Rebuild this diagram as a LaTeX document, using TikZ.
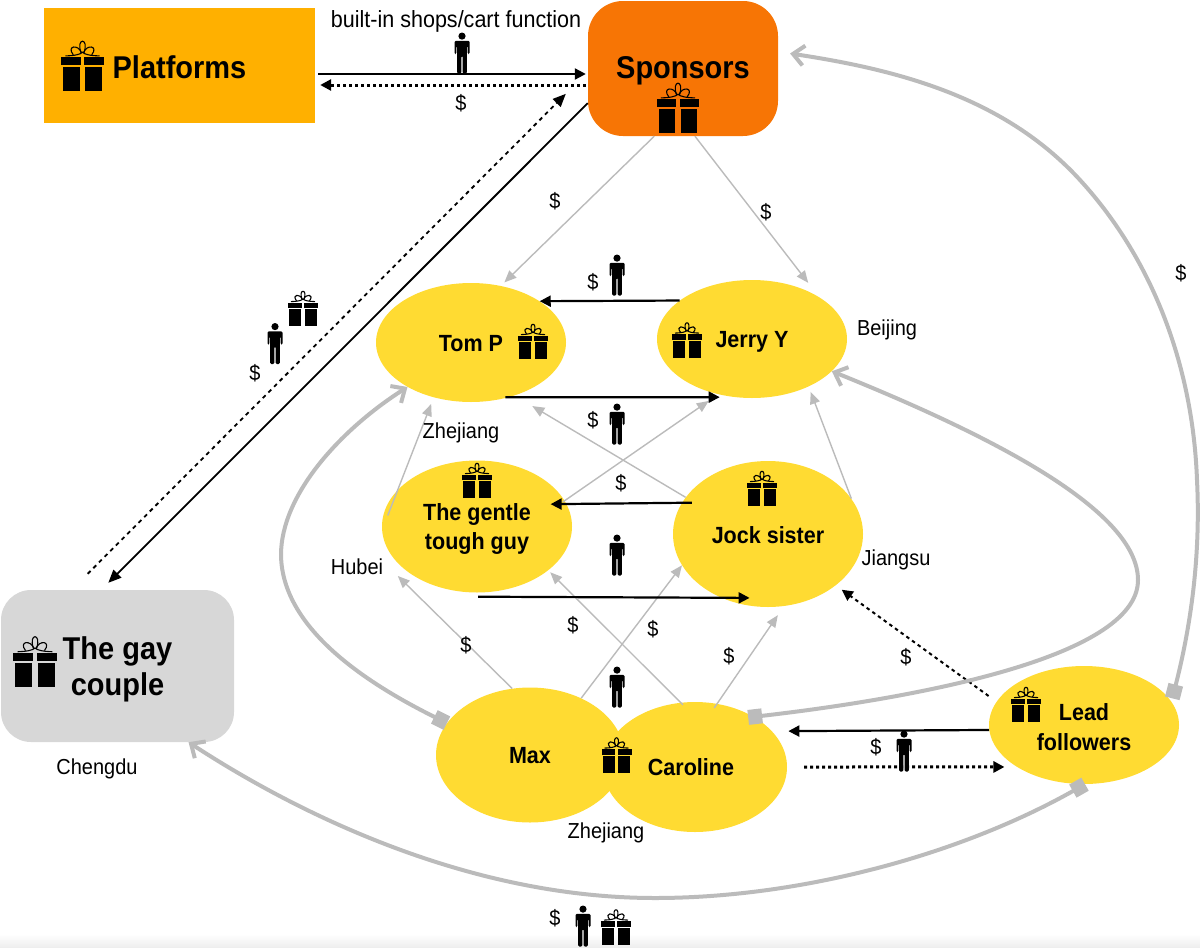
\documentclass[tikz,border=0pt]{standalone}
\usepackage{fontspec}
\setmainfont[FakeStretch=0.92]{Liberation Sans}
\usetikzlibrary{arrows.meta,shapes.geometric}
\definecolor{yel}{HTML}{FFDB32}
\definecolor{ora}{HTML}{F77505}
\definecolor{plt}{HTML}{FFB000}
\definecolor{gbox}{HTML}{D7D7D7}
\definecolor{gline}{HTML}{BBBBBB}
\newcommand{\lowr}[2]{\raisebox{-#1pt}[\height][\depth]{#2}}
\tikzset{
  x=1pt,y=-1pt,
  bigtxt/.style={font=\fontsize{31.5}{36}\selectfont\bfseries,align=center,text=black},
  midtxt/.style={font=\fontsize{23.4}{29}\selectfont\bfseries,align=center,text=black},
  blob/.style={ellipse,fill=yel,inner sep=0pt,midtxt},
  lab/.style={inner sep=0pt,font=\fontsize{21.7}{24}\selectfont,text=black},
  money/.style={inner sep=0pt,font=\fontsize{21.7}{24}\selectfont,text=black},
  thinarrow/.style={draw=gline,line width=1.4pt,-{Triangle[length=12pt,width=10pt]}},
  blackarrow/.style={draw=black,line width=2.2pt,-{Triangle[length=11pt,width=11pt]}},
  dotarrow/.style={draw=black,line width=3pt,dash pattern=on 3pt off 3pt,-{Triangle[length=11pt,width=11pt]}},
  dasharrow/.style={draw=black,line width=2pt,dash pattern=on 3.5pt off 3.5pt,-{Triangle[length=11pt,width=11pt]}},
  longdash/.style={draw=black,line width=1.8pt,dash pattern=on 4pt off 4pt,-{Triangle[length=13pt,width=11pt]}},
  longsolid/.style={draw=black,line width=1.8pt,-{Triangle[length=13pt,width=11pt]}},
  bigcurve/.style={draw=gline,line width=4pt,{Square[length=14pt,width=15pt]}-{Straight Barb[length=11pt,width=20pt,line width=4pt]}},
  gift/.pic={
    \fill (-15,-5.3) rectangle (-1.2,0.3);
    \fill (1.2,-5.3) rectangle (15,0.3);
    \fill (-13.6,1.2) rectangle (-1.8,18);
    \fill (1.8,1.2) rectangle (13.6,18);
    \draw[line width=1.1pt] (-12,-6.4) .. controls (-5,-6.6) and (-1.5,-7.5) .. (0,-9) .. controls (1.5,-7.5) and (5,-6.6) .. (12,-6.4);
    \draw[line width=1.1pt] (-0.6,-8.5) .. controls (-3,-15) and (-11.5,-13.5) .. (-6.5,-7.2);
    \draw[line width=1.1pt] (0.6,-8.5) .. controls (3,-15) and (11.5,-13.5) .. (6.5,-7.2);
    \draw[line width=1.1pt] (-1,-8.5) .. controls (-5,-19.5) and (5,-19.5) .. (1,-8.5);
  },
  person/.pic={
    \fill (0,-16.9) circle (3.6);
    \fill[rounded corners=1.2pt] (-7.5,1)--(-7.5,-12.2)--(7.5,-12.2)--(7.5,1)--(5.7,1)--(5.7,-7)--(4.9,-7)--(4.9,20.5)--(0.7,20.5)--(0.7,3)--(-0.7,3)--(-0.7,20.5)--(-4.9,20.5)--(-4.9,-7)--(-5.7,-7)--(-5.7,1)--cycle;
  }
}
\begin{document}
\begin{tikzpicture}
\useasboundingbox (0,0) rectangle (1200,948);
\fill[top color=white,bottom color=black!7] (0,934) rectangle (1200,948);

% boxes and blobs
\node[bigtxt,fill=plt,inner sep=0pt,minimum width=271pt,minimum height=115pt] (plat) at (179.5,65.5) {\lowr{2}{Platforms}};
\node[bigtxt,fill=ora,rounded corners=35pt,inner sep=0pt,minimum width=190pt,minimum height=135pt] (spon) at (683,68.5) {\lowr{2}{Sponsors}};
\node[bigtxt,fill=gbox,rounded corners=30pt,inner sep=0pt,minimum width=233pt,minimum height=152pt] (gay) at (117.5,666) {\lowr{3}{The gay}\\\lowr{3}{couple}};

\node[blob,minimum width=190pt,minimum height=119pt] (tom) at (471,342.5) {\lowr{1}{Tom P}};
\node[blob,minimum width=190pt,minimum height=118pt] (jerry) at (752,339) {\lowr{3}{Jerry Y}};
\node[blob,minimum width=190pt,minimum height=132pt] (gentle) at (477,526.5) {\lowr{2.5}{The gentle}\\\lowr{2.5}{tough guy}};
\node[blob,minimum width=190pt,minimum height=146pt] (jock) at (768,534) {\lowr{1}{Jock sister}};
\node[blob,minimum width=188pt,minimum height=135pt] (max) at (530,755) {\lowr{1}{Max}};
\node[blob,minimum width=184pt,minimum height=130pt] (caro) at (695,767) {\hspace*{-8pt}Caroline};
\node[blob,minimum width=190pt,minimum height=118pt] (lead) at (1084,725) {\lowr{2}{Lead}\\[1pt]\lowr{2}{followers}};

% thin grey connectors
\draw[thinarrow] (spon.247.3) -- ([shift={(2.1,-3.7)}]tom.61);
\draw[thinarrow] (spon.-80.7) -- ([shift={(5.9,-5.9)}]jerry.45);
\draw[thinarrow] ([shift={(4.5,0.5)}]gentle.173.3) -- ([shift={(-3.9,6.2)}]tom.237.4);
\draw[thinarrow] (jock.156.9) -- ([shift={(12,12.5)}]tom.-46.6);
\draw[thinarrow] ([shift={(-2.2,0.7)}]gentle.16.1) -- ([shift={(-5.2,7.6)}]jerry.235.9);
\draw[thinarrow] (jock.23.8) -- ([shift={(4.6,4.2)}]jerry.-42.4);
\draw[thinarrow] (max.105.8) -- ([shift={(-8.4,5.2)}]gentle.212.1);
\draw[thinarrow] (max.48.2) -- (jock.200);
\draw[thinarrow] ([shift={(0.5,2.5)}]caro.101.8) -- ([shift={(2.4,1.5)}]gentle.-32.9);
\draw[thinarrow] ([shift={(-1.4,4.4)}]caro.72.2) -- ([shift={(0.9,8.3)}]jock.-83.7);

% black connectors
\draw[blackarrow] ([shift={(3,8.5)}]plat.east) -- ([shift={(-2,5.5)}]spon.west);
\draw[dotarrow] ([shift={(-2,16.5)}]spon.west) -- ([shift={(5,19.5)}]plat.east);
\draw[blackarrow] (jerry.152.4) -- (tom.31.4);
\draw[blackarrow] ([shift={(-4,0)}]tom.-55.1) -- ([shift={(-14.5,0)}]jerry.253.2);
\draw[blackarrow] ([shift={(10,0)}]jock.160.2) -- ([shift={(-16,0)}]gentle.14.8);
\draw[blackarrow] ([shift={(1,4)}]gentle.south) -- ([shift={(28,0)}]jock.234.5);
\draw[blackarrow] (lead.183.6) -- ([shift={(16.4,0)}]caro.25.2);
\draw[dotarrow] ([shift={(17,0)}]caro.east) -- ([shift={(-12.4,0)}]lead.212);
\draw[dasharrow] ([shift={(-10,-2.9)}]lead.163.7) -- ([shift={(5.8,4.5)}]jock.-37.5);
\draw[longsolid] (spon.200.5) -- ([shift={(7,-7)}]gay.102.2);
\draw[longdash] ([shift={(16,-16)}]gay.121.5) -- ([shift={(-22,22)}]spon.182.7);

% thick grey curves
\draw[bigcurve] (max.159.7) .. controls (370,685) and (282,630) .. (281,555) .. controls (281,495) and (340,430) .. (tom.215.2);
\draw[bigcurve] ([shift={(-5,1)}]caro.41.6) .. controls (900,700) and (1138,660) .. (1138,580) .. controls (1138,510) and (990,435) .. (jerry.-22.2);
\draw[bigcurve,shorten >=12pt] ([shift={(5,2)}]lead.19.5) .. controls (1195,610) and (1200,540) .. (1197,480) .. controls (1193,370) and (1155,262) .. (1080,180) .. controls (1005,98) and (900,70) .. (spon.10.6);
\draw[bigcurve] (lead.-89) .. controls (960,855) and (800,898) .. (655,898) .. controls (470,898) and (300,815) .. (gay.-47.6);

% gifts
\pic[scale=1.42] at (82.5,65) {gift};
\pic[scale=1.42] at (678,107) {gift};
\pic[scale=1.45] at (35,661) {gift};
\pic at (533,341) {gift};
\pic at (687,339.5) {gift};
\pic at (477,480) {gift};
\pic at (762,488) {gift};
\pic at (616.5,754.5) {gift};
\pic at (1026,704) {gift};
\pic at (303,308) {gift};
\pic at (616,926.5) {gift};

% people
\pic at (462,53) {person};
\pic at (617,275) {person};
\pic at (617,424) {person};
\pic at (617,555) {person};
\pic at (617,687) {person};
\pic at (904,751) {person};
\pic at (275,343.5) {person};
\pic at (583,926) {person};

% place and function labels
\node[lab,font=\fontsize{23.4}{26}\selectfont] (t1) at (456,21) {built-in shops/cart function};
\node[lab] (t2) at (887,330) {Beijing};
\node[lab] (t3) at (461,433) {Zhejiang};
\node[lab] (t4) at (357,567) {Hubei};
\node[lab] (t5) at (896,560) {Jiangsu};
\node[lab] (t6) at (97,769) {Chengdu};
\node[lab] (t7) at (606,833) {Zhejiang};

% money labels
\node[money] (m1) at (461,103) {\$};
\node[money] (m2) at (555,201) {\$};
\node[money] (m3) at (766,212) {\$};
\node[money] (m4) at (593,282) {\$};
\node[money] (m5) at (593,420) {\$};
\node[money] (m6) at (621,483) {\$};
\node[money] (m7) at (466,645) {\$};
\node[money] (m8) at (573,625) {\$};
\node[money] (m9) at (653,629) {\$};
\node[money] (m10) at (729,656) {\$};
\node[money] (m11) at (906,657) {\$};
\node[money] (m12) at (876,747) {\$};
\node[money] (m13) at (555,918) {\$};
\node[money] (m14) at (1181,273) {\$};
\node[money] (m15) at (255,373) {\$};
\end{tikzpicture}
\end{document}
